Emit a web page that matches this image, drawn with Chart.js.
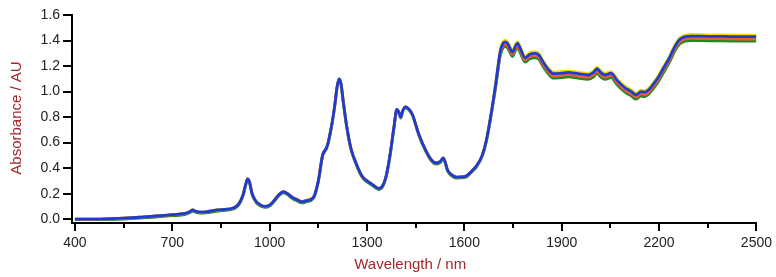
<!DOCTYPE html>
<html>
<head>
<meta charset="utf-8">
<script src="https://cdn.jsdelivr.net/npm/chart.js@4/dist/chart.umd.min.js"></script>
<style>
  html, body { margin: 0; padding: 0; background: #fff; }
  #spectra { display: block; }
</style>
</head>
<body>
<canvas id="spectra" width="776" height="277"></canvas>
<script>
// NIR spectra — 4 overlaid samples, absorbance vs wavelength

const wavelengths = [
  400, 450, 500, 550, 600, 650, 700, 740, 755, 763,
  772, 785, 810, 840, 870, 890, 905, 918, 926, 932,
  938, 946, 958, 972, 985, 1000, 1015, 1030, 1042, 1055,
  1070, 1085, 1100, 1115, 1135, 1150, 1163, 1177, 1190, 1200,
  1208, 1214, 1220, 1228, 1238, 1250, 1266, 1284, 1300, 1315,
  1337, 1350, 1361, 1372, 1383, 1392, 1398, 1404, 1410, 1419,
  1430, 1440, 1459, 1481, 1500, 1512, 1525, 1535, 1549, 1565,
  1576, 1603, 1620, 1638, 1655, 1668,
  1684, 1696, 1711, 1720, 1727, 1735, 1748, 1758, 1764, 1772,
  1788, 1800, 1819, 1830, 1843, 1860, 1874, 1900, 1920, 1950,
  1981, 1998, 2009, 2020, 2034, 2052, 2070, 2095, 2115, 2129,
  2144, 2155, 2166, 2180, 2197, 2215, 2233, 2250, 2264, 2280,
  2298, 2350, 2400, 2450, 2500,
];

const absBlue = [
  0.000, 0.000, 0.003, 0.008, 0.015, 0.025, 0.035, 0.045, 0.060, 0.072,
  0.062, 0.055, 0.060, 0.072, 0.078, 0.090, 0.120, 0.190, 0.270, 0.315,
  0.290, 0.200, 0.140, 0.110, 0.100, 0.110, 0.150, 0.195, 0.215, 0.200,
  0.170, 0.150, 0.135, 0.145, 0.170, 0.300, 0.500, 0.570, 0.720, 0.880,
  1.040, 1.100, 1.060, 0.900, 0.720, 0.560, 0.440, 0.340, 0.300, 0.275,
  0.240, 0.270, 0.360, 0.520, 0.720, 0.860, 0.840, 0.800, 0.850, 0.880,
  0.860, 0.820, 0.670, 0.540, 0.460, 0.440, 0.450, 0.480, 0.380, 0.340,
  0.330, 0.335, 0.370, 0.420, 0.500, 0.620,
  0.850, 1.050, 1.320, 1.380, 1.390, 1.370, 1.310, 1.360, 1.380, 1.340,
  1.265, 1.290, 1.300, 1.285, 1.230, 1.170, 1.140, 1.145, 1.150, 1.140,
  1.130, 1.150, 1.180, 1.150, 1.130, 1.145, 1.090, 1.030, 1.000, 0.975,
  1.000, 0.995, 1.010, 1.050, 1.110, 1.190, 1.270, 1.360, 1.410, 1.430,
  1.435, 1.433, 1.432, 1.430, 1.430,
];

const absYellow = [
  0.000, 0.000, 0.003, 0.008, 0.015, 0.025, 0.035, 0.045, 0.060, 0.072,
  0.062, 0.055, 0.060, 0.072, 0.078, 0.090, 0.120, 0.190, 0.270, 0.315,
  0.290, 0.200, 0.140, 0.110, 0.100, 0.110, 0.150, 0.195, 0.215, 0.200,
  0.170, 0.150, 0.135, 0.145, 0.170, 0.300, 0.500, 0.570, 0.720, 0.880,
  1.040, 1.100, 1.060, 0.900, 0.720, 0.560, 0.440, 0.340, 0.300, 0.275,
  0.240, 0.270, 0.360, 0.520, 0.720, 0.860, 0.840, 0.800, 0.850, 0.880,
  0.860, 0.820, 0.670, 0.540, 0.460, 0.440, 0.450, 0.480, 0.380, 0.340,
  0.330, 0.335, 0.370, 0.420, 0.500, 0.620,
  0.855, 1.058, 1.332, 1.392, 1.402, 1.382, 1.322, 1.372, 1.392, 1.352,
  1.277, 1.302, 1.312, 1.297, 1.242, 1.182, 1.152, 1.157, 1.162, 1.152,
  1.142, 1.162, 1.192, 1.162, 1.142, 1.157, 1.102, 1.042, 1.012, 0.987,
  1.012, 1.007, 1.022, 1.062, 1.122, 1.202, 1.282, 1.372, 1.422, 1.442,
  1.447, 1.445, 1.444, 1.442, 1.442,
];

const absRed = [
  0.000, 0.000, 0.003, 0.008, 0.015, 0.025, 0.035, 0.045, 0.060, 0.072,
  0.062, 0.055, 0.060, 0.072, 0.078, 0.090, 0.120, 0.190, 0.270, 0.315,
  0.290, 0.200, 0.140, 0.110, 0.100, 0.110, 0.150, 0.195, 0.215, 0.200,
  0.172, 0.155, 0.140, 0.150, 0.172, 0.300, 0.500, 0.570, 0.720, 0.880,
  1.040, 1.100, 1.060, 0.900, 0.720, 0.560, 0.440, 0.340, 0.300, 0.275,
  0.240, 0.270, 0.360, 0.520, 0.720, 0.860, 0.840, 0.800, 0.850, 0.880,
  0.860, 0.820, 0.670, 0.540, 0.460, 0.440, 0.450, 0.480, 0.380, 0.340,
  0.330, 0.335, 0.370, 0.420, 0.500, 0.620,
  0.844, 1.038, 1.302, 1.362, 1.372, 1.352, 1.292, 1.342, 1.362, 1.322,
  1.247, 1.272, 1.282, 1.267, 1.212, 1.152, 1.122, 1.127, 1.132, 1.122,
  1.112, 1.132, 1.162, 1.132, 1.112, 1.127, 1.072, 1.012, 0.982, 0.957,
  0.982, 0.977, 0.992, 1.032, 1.092, 1.172, 1.252, 1.342, 1.392, 1.412,
  1.417, 1.415, 1.414, 1.412, 1.412,
];

const absGreen = [
  -0.004, -0.004, -0.003, 0.001, 0.008, 0.017, 0.027, 0.037, 0.052, 0.064,
  0.054, 0.047, 0.052, 0.064, 0.070, 0.082, 0.112, 0.182, 0.262, 0.307,
  0.282, 0.192, 0.132, 0.102, 0.092, 0.102, 0.142, 0.187, 0.207, 0.192,
  0.162, 0.142, 0.127, 0.137, 0.162, 0.292, 0.492, 0.562, 0.712, 0.872,
  1.032, 1.092, 1.052, 0.892, 0.712, 0.552, 0.432, 0.332, 0.292, 0.267,
  0.232, 0.262, 0.352, 0.512, 0.712, 0.852, 0.832, 0.792, 0.842, 0.872,
  0.852, 0.812, 0.662, 0.532, 0.452, 0.432, 0.442, 0.472, 0.372, 0.332,
  0.322, 0.327, 0.362, 0.412, 0.492, 0.610,
  0.835, 1.025, 1.285, 1.345, 1.355, 1.335, 1.275, 1.325, 1.345, 1.305,
  1.230, 1.255, 1.265, 1.250, 1.195, 1.135, 1.105, 1.110, 1.115, 1.105,
  1.095, 1.115, 1.145, 1.115, 1.095, 1.110, 1.055, 0.995, 0.965, 0.940,
  0.965, 0.960, 0.975, 1.015, 1.075, 1.155, 1.235, 1.325, 1.375, 1.395,
  1.400, 1.398, 1.397, 1.395, 1.395,
];

const xMajorTicks = [400, 700, 1000, 1300, 1600, 1900, 2200, 2500];
const xMinorTicks = [550, 850, 1150, 1450, 1750, 2050, 2350];
const yTicks = [0.0, 0.2, 0.4, 0.6, 0.8, 1.0, 1.2, 1.4, 1.6];

const X_TITLE = "Wavelength / nm";
const Y_TITLE = "Absorbance / AU";

const TITLE_COLOR = "#a3282c";
const TICK_COLOR = "#222222";
const FONT = "'Liberation Sans', Arial, sans-serif";

function toPoints(ys) {
  return wavelengths.map((x, i) => ({ x, y: ys[i] }));
}

function series(label, ys, color) {
  return {
    label,
    data: toPoints(ys),
    borderColor: color,
    borderWidth: 2.8,
    pointRadius: 0,
    fill: false,
    cubicInterpolationMode: "monotone",
  };
}

// minor ticks on x + the two axis titles
const extrasPlugin = {
  id: "extras",
  afterDraw(chart) {
    const { ctx, chartArea } = chart;
    const xs = chart.scales.x;
    ctx.save();
    ctx.strokeStyle = "#000";
    ctx.lineWidth = 2;
    xMinorTicks.forEach((v) => {
      const px = Math.round(xs.getPixelForValue(v));
      ctx.beginPath();
      ctx.moveTo(px, chartArea.bottom);
      ctx.lineTo(px, chartArea.bottom + 5);
      ctx.stroke();
    });

    ctx.fillStyle = TITLE_COLOR;
    ctx.font = "15px " + FONT;
    ctx.textAlign = "center";
    ctx.textBaseline = "middle";
    ctx.fillText(X_TITLE, (chartArea.left + chartArea.right) / 2 - 4, 265);

    ctx.translate(17, 118);
    ctx.rotate(-Math.PI / 2);
    ctx.fillText(Y_TITLE, 0, 0);
    ctx.restore();
  },
};

Chart.defaults.font.family = FONT;
Chart.defaults.color = TICK_COLOR;

new Chart(document.getElementById("spectra"), {
  type: "line",
  data: {
    // index 0 is painted last, so blue sits on top
    datasets: [
      series("s4", absBlue, "#1c3ed0"),
      series("s2", absRed, "#ec5a44"),
      series("s1", absYellow, "#f2de00"),
      series("s3", absGreen, "#1f8a1f"),
    ],
  },
  options: {
    responsive: false,
    animation: false,
    layout: { padding: { top: 15, right: 17, left: 0, bottom: 0 } },
    plugins: { legend: { display: false }, tooltip: { enabled: false } },
    scales: {
      x: {
        type: "linear",
        min: 391,
        max: 2500,
        afterBuildTicks: (s) => { s.ticks = xMajorTicks.map((v) => ({ value: v })); },
        afterFit: (s) => { s.height = 54; },
        ticks: {
          font: { size: 14 },
          color: TICK_COLOR,
          padding: 4,
          maxRotation: 0,
          autoSkip: false,
          callback: (v) => String(v),
        },
        grid: { drawOnChartArea: false, drawTicks: true, tickLength: 8, color: "#000", lineWidth: 2 },
        border: { display: true, color: "#000", width: 2 },
      },
      y: {
        type: "linear",
        min: -0.03,
        max: 1.6,
        afterBuildTicks: (s) => { s.ticks = yTicks.map((v) => ({ value: v })); },
        afterFit: (s) => { s.width = 72; },
        ticks: {
          font: { size: 14 },
          color: TICK_COLOR,
          padding: 3,
          callback: (v) => Number(v).toFixed(1),
        },
        grid: { drawOnChartArea: false, drawTicks: true, tickLength: 9, color: "#000", lineWidth: 2 },
        border: { display: true, color: "#000", width: 2 },
      },
    },
  },
  plugins: [extrasPlugin],
});
</script>
</body>
</html>
